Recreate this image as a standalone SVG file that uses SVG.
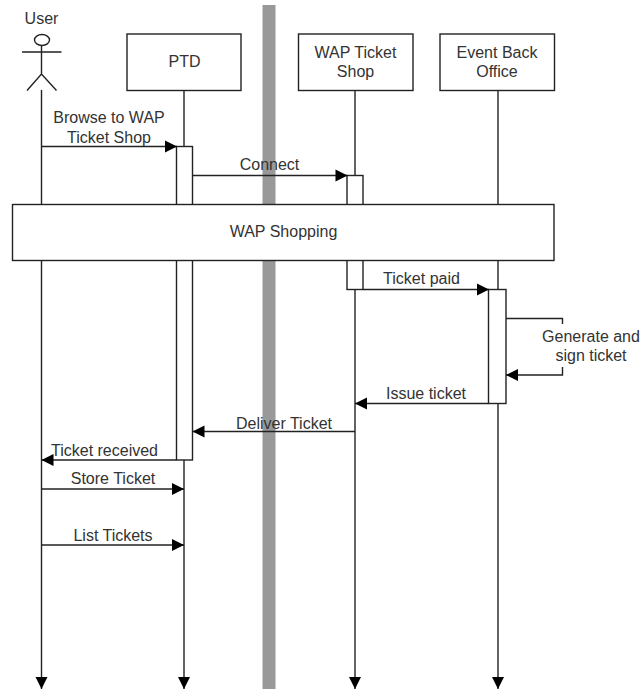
<svg xmlns="http://www.w3.org/2000/svg" width="642" height="691" viewBox="0 0 642 691">
<style>
text{font-family:"Liberation Sans",Arial,sans-serif;font-size:16px;fill:#333;text-anchor:middle}
.l{fill:none;stroke:#222;stroke-width:1.4}
.b{fill:#fff;stroke:#222;stroke-width:1.4}
.a{fill:none;stroke:#222;stroke-width:1.4;marker-end:url(#arr)}
</style>
<defs>
<marker id="arr" markerUnits="userSpaceOnUse" markerWidth="14" markerHeight="14" refX="13" refY="7" orient="auto"><path d="M1 1L13 7L1 13Z" fill="#000"/></marker>
</defs>
<rect id="divider" x="262.500" y="5" width="13" height="684" fill="#999"/>
<g id="connectors">
<path class="a" d="M41.500 90V689"/>
<path class="a" d="M184 90V689"/>
<path class="a" d="M355 90V689"/>
<path class="a" d="M498 90V689"/>
</g>
<g id="act-ptd"><rect class="b" x="176.500" y="146.500" width="16" height="313.500"/></g>
<g id="act-wap"><rect class="b" x="347" y="175.500" width="16" height="114"/></g>
<g id="act-event"><rect class="b" x="488.500" y="289.500" width="17.500" height="114"/></g>
<g id="messages">
<path class="a" d="M41.500 146.500H177"/>
<path class="a" d="M192.500 175.500H347.500"/>
<path class="a" d="M363 289.500H489"/>
<path class="l" d="M506 318.500H562.500V324"/>
<path class="a" d="M562.500 367V375H506"/>
<path class="a" d="M488.500 403.500H355"/>
<path class="a" d="M355 431.500H192.500"/>
<path class="a" d="M176.500 460H41.500"/>
<path class="a" d="M41.500 489H184"/>
<path class="a" d="M41.500 545H184"/>
<text x="109" y="123">Browse to WAP</text>
<text x="109" y="143">Ticket Shop</text>
<text x="269.500" y="170">Connect</text>
<text x="421.500" y="284">Ticket paid</text>
<text x="591" y="342">Generate and</text>
<text x="591" y="361">sign ticket</text>
<text x="426" y="399">Issue ticket</text>
<text x="284" y="429">Deliver Ticket</text>
<text x="104.500" y="456">Ticket received</text>
<text x="113" y="484">Store Ticket</text>
<text x="113" y="541">List Tickets</text>
</g>
<g id="user">
<text x="41.500" y="24">User</text>
<ellipse class="l" cx="42" cy="40" rx="7.500" ry="5.500"/>
<path class="l" d="M41.500 45.500V74M22 52H61.500M27 90.500L41.500 74L56.500 90.500"/>
</g>
<g id="ptd"><rect class="b" x="127" y="34" width="114" height="56.500"/><text x="184.500" y="67">PTD</text></g>
<g id="wap-ticket-shop"><rect class="b" x="298.500" y="34" width="114.500" height="56.500"/><text x="355.500" y="58">WAP Ticket</text><text x="355.500" y="77">Shop</text></g>
<g id="event-back-office"><rect class="b" x="440" y="34" width="114.500" height="56.500"/><text x="497" y="58">Event Back</text><text x="497" y="77">Office</text></g>
<g id="wap-shopping"><rect class="b" x="12.500" y="204.500" width="541.500" height="56"/><text x="283.500" y="237">WAP Shopping</text></g>
</svg>
